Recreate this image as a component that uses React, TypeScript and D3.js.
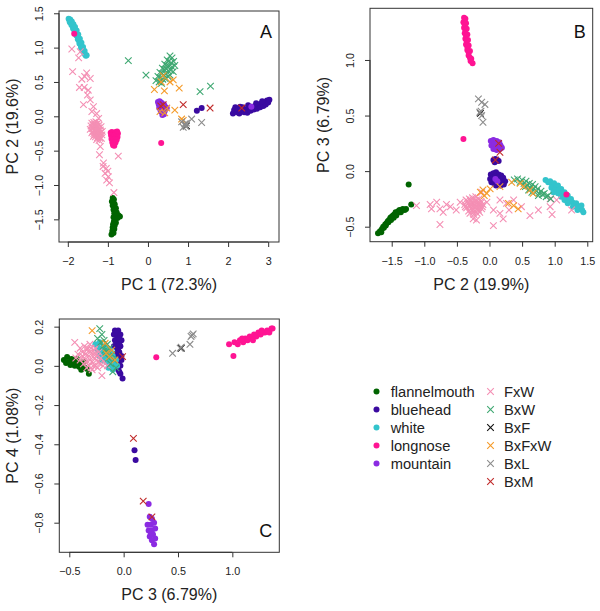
import React, { useEffect, useRef } from 'react';
import * as d3 from 'd3';

// legend names / colours
const speciesNames = ['flannelmouth', 'bluehead', 'white', 'longnose', 'mountain'];
const speciesColors = ['#006400', '#3a0aa0', '#33c4cc', '#ff1493', '#8b2be2'];
const hybridNames = ['FxW', 'BxW', 'BxF', 'BxFxW', 'BxL', 'BxM'];
const hybridColors = ['#f48fb4', '#3fa872', '#111111', '#f59b2a', '#8c8c8c', '#c02a2a'];

// ---- panel A : PC1 vs PC2 ----
const flannelmouthA = [[-0.88,-1.19],[-0.85,-1.21],[-0.9,-1.24],[-0.86,-1.26],[-0.83,-1.28],[-0.88,-1.3],[-0.84,-1.32],[-0.8,-1.34],[-0.86,-1.36],[-0.82,-1.38],[-0.78,-1.4],[-0.84,-1.41],[-0.74,-1.44],[-0.7,-1.46],[-0.8,-1.45],[-0.86,-1.47],[-0.76,-1.48],[-0.82,-1.5],[-0.85,-1.53],[-0.8,-1.55],[-0.87,-1.57],[-0.83,-1.59],[-0.88,-1.62],[-0.84,-1.64],[-0.89,-1.67],[-0.86,-1.7],[-0.91,-1.72]];
const blueheadA = [[1.22,0.08],[1.34,0.12],[2.12,0.04],[2.15,0.09],[2.18,0.13],[2.22,0.06],[2.25,0.11],[2.28,0.04],[2.32,0.08],[2.36,0.13],[2.4,0.06],[2.44,0.1],[2.48,0.05],[2.52,0.12],[2.56,0.08],[2.6,0.14],[2.64,0.1],[2.68,0.15],[2.72,0.11],[2.76,0.17],[2.8,0.13],[2.84,0.19],[2.88,0.15],[2.91,0.21],[2.94,0.17],[2.97,0.23],[3.0,0.2],[3.03,0.24],[2.7,0.19],[2.5,0.16],[2.3,0.14],[2.85,0.22]];
const whiteA = [[-1.98,1.42],[-1.96,1.4],[-1.94,1.41],[-1.95,1.37],[-1.92,1.36],[-1.9,1.38],[-1.91,1.33],[-1.88,1.32],[-1.86,1.34],[-1.87,1.28],[-1.84,1.27],[-1.82,1.3],[-1.83,1.24],[-1.8,1.22],[-1.78,1.25],[-1.79,1.18],[-1.76,1.16],[-1.74,1.19],[-1.75,1.12],[-1.72,1.1],[-1.7,1.13],[-1.71,1.06],[-1.68,1.04],[-1.66,1.07],[-1.67,1.0],[-1.64,0.98],[-1.62,1.01],[-1.63,0.95],[-1.6,0.93],[-1.58,0.95],[-1.57,0.9],[-1.55,0.88],[-1.53,0.89]];
const longnoseA = [[-1.84,1.2],[0.33,-0.39],[-0.93,-0.24],[-0.9,-0.23],[-0.87,-0.26],[-0.8,-0.23],[-0.77,-0.22],[-0.75,-0.25],[-0.92,-0.28],[-0.88,-0.3],[-0.84,-0.28],[-0.79,-0.29],[-0.76,-0.3],[-0.91,-0.33],[-0.86,-0.34],[-0.82,-0.33],[-0.78,-0.34],[-0.89,-0.38],[-0.85,-0.39],[-0.81,-0.38],[-0.87,-0.42],[-0.84,-0.43]];
const mountainA = [[0.25,0.21],[0.29,0.22],[0.33,0.2],[0.27,0.17],[0.31,0.16],[0.36,0.18],[0.4,0.17],[0.28,0.12],[0.33,0.11],[0.38,0.13],[0.43,0.14],[0.47,0.12],[0.32,0.07],[0.37,0.06],[0.42,0.08],[0.36,0.02],[0.4,0.03],[2.58,0.14]];
const fxwA = [[-1.9,0.98],[-1.69,0.94],[-1.73,0.85],[-1.88,0.65],[-1.65,0.54],[-1.53,0.63],[-1.44,0.55],[-1.58,0.58],[-1.71,0.42],[-1.59,0.42],[-1.49,0.38],[-1.51,0.31],[-1.44,0.24],[-1.61,0.17],[-1.36,0.14],[-1.28,0.04],[-1.23,-0.03],[-1.4,0.07],[-1.4,-0.1],[-1.35,-0.09],[-1.3,-0.08],[-1.25,-0.1],[-1.42,-0.14],[-1.37,-0.13],[-1.32,-0.15],[-1.27,-0.14],[-1.22,-0.13],[-1.17,-0.15],[-1.44,-0.19],[-1.39,-0.18],[-1.34,-0.2],[-1.29,-0.19],[-1.24,-0.21],[-1.19,-0.2],[-1.14,-0.22],[-1.4,-0.24],[-1.35,-0.25],[-1.3,-0.23],[-1.25,-0.26],[-1.2,-0.25],[-1.15,-0.27],[-1.36,-0.29],[-1.31,-0.3],[-1.26,-0.31],[-1.21,-0.3],[-1.16,-0.32],[-1.28,-0.34],[-1.22,-0.35],[-1.33,-0.12],[-1.28,-0.17],[-1.23,-0.17],[-1.38,-0.22],[-1.33,-0.27],[-1.18,-0.23],[-1.23,-0.28],[-1.28,-0.27],[-1.37,-0.16],[-1.2,-0.32],[-1.3,-0.12],[-1.26,-0.22],[-1.19,-0.44],[-1.21,-0.56],[-0.74,-0.58],[-1.11,-0.68],[-1.04,-0.76],[-1.07,-0.83],[-0.99,-0.88],[-1.03,-0.93],[-0.96,-0.97],[-0.85,-1.11],[-1.12,-0.73],[-1.0,-0.8]];
const bxwA = [[0.55,0.88],[0.6,0.85],[0.48,0.82],[0.52,0.8],[0.58,0.78],[0.64,0.8],[0.42,0.76],[0.47,0.74],[0.53,0.73],[0.6,0.72],[0.67,0.74],[0.36,0.7],[0.41,0.68],[0.46,0.69],[0.51,0.66],[0.57,0.67],[0.63,0.65],[0.3,0.64],[0.35,0.62],[0.4,0.6],[0.45,0.62],[0.5,0.58],[0.25,0.58],[0.31,0.56],[0.37,0.54],[0.43,0.55],[0.2,0.52],[0.28,0.5],[0.34,0.48],[0.55,0.6],[-0.49,0.81],[-0.05,0.6],[1.3,0.36],[1.56,0.44]];
const bxfA = [[0.96,-0.14]];
const bxfxwA = [[0.16,0.39],[0.41,0.37],[0.38,0.59],[0.63,0.53],[0.55,0.5],[0.78,0.41],[0.67,0.09],[0.3,0.07],[0.84,-0.04],[0.88,-0.06],[0.47,0.12],[0.42,0.05],[0.33,0.5]];
const bxlA = [[0.93,-0.13],[0.96,-0.1],[0.84,-0.08],[1.09,-0.04],[1.34,-0.09],[0.88,-0.16],[0.95,-0.15],[0.92,-0.11]];
const bxmA = [[0.38,0.17],[0.32,0.15],[0.88,0.17],[1.55,0.12],[2.34,0.12]];

// ---- panel B : PC2 vs PC3 ----
const flannelmouthB = [[-1.71,-0.56],[-1.68,-0.54],[-1.65,-0.52],[-1.66,-0.55],[-1.62,-0.51],[-1.6,-0.48],[-1.63,-0.5],[-1.58,-0.47],[-1.56,-0.45],[-1.59,-0.49],[-1.54,-0.44],[-1.52,-0.42],[-1.55,-0.46],[-1.5,-0.41],[-1.48,-0.4],[-1.51,-0.44],[-1.46,-0.39],[-1.44,-0.37],[-1.47,-0.42],[-1.42,-0.38],[-1.4,-0.36],[-1.43,-0.4],[-1.38,-0.35],[-1.36,-0.37],[-1.33,-0.34],[-1.3,-0.35],[-1.28,-0.34],[-1.24,-0.12],[-1.2,-0.3]];
const blueheadB = [[0.06,0.1],[0.09,0.11],[0.12,0.1],[0.14,0.09],[0.08,0.08],[0.02,-0.03],[0.06,-0.02],[0.1,-0.01],[0.14,-0.03],[0.18,-0.04],[0.01,-0.07],[0.05,-0.06],[0.09,-0.05],[0.13,-0.06],[0.17,-0.07],[0.21,-0.06],[0.24,-0.09],[0.03,-0.1],[0.07,-0.11],[0.11,-0.1],[0.15,-0.11],[0.19,-0.1],[0.22,-0.12],[0.1,-0.13],[0.17,-0.13]];
const whiteB = [[0.86,-0.08],[0.9,-0.1],[0.93,-0.09],[0.96,-0.12],[0.99,-0.11],[0.95,-0.15],[1.02,-0.14],[1.05,-0.13],[1.0,-0.17],[1.07,-0.17],[1.1,-0.16],[1.05,-0.2],[1.12,-0.2],[1.15,-0.19],[1.1,-0.23],[1.17,-0.23],[1.2,-0.22],[1.15,-0.26],[1.22,-0.26],[1.25,-0.25],[1.2,-0.29],[1.27,-0.28],[1.3,-0.3],[1.33,-0.29],[1.28,-0.32],[1.36,-0.32],[1.39,-0.33],[1.35,-0.35],[1.42,-0.35],[1.44,-0.37],[1.41,-0.31],[0.98,-0.19]];
const longnoseB = [[-0.39,1.38],[-0.37,1.37],[-0.4,1.34],[-0.38,1.32],[-0.36,1.33],[-0.39,1.29],[-0.37,1.27],[-0.35,1.28],[-0.38,1.24],[-0.36,1.22],[-0.34,1.23],[-0.37,1.19],[-0.35,1.17],[-0.33,1.18],[-0.36,1.14],[-0.34,1.12],[-0.32,1.13],[-0.34,1.09],[-0.32,1.07],[-0.3,1.08],[-0.32,1.04],[-0.3,1.02],[-0.28,1.01],[-0.29,0.99],[-0.26,0.97],[-0.4,0.29],[1.18,-0.21]];
const mountainB = [[0.02,0.27],[0.06,0.28],[0.11,0.27],[0.15,0.26],[0.03,0.23],[0.08,0.24],[0.13,0.22],[0.17,0.23],[0.06,0.2],[0.11,0.19],[0.16,0.2],[0.19,0.21],[0.09,-0.07],[0.12,-0.09]];
const fxwB = [[-0.36,-0.26],[-0.31,-0.25],[-0.26,-0.24],[-0.21,-0.23],[-0.16,-0.25],[-0.38,-0.3],[-0.33,-0.29],[-0.28,-0.28],[-0.23,-0.27],[-0.18,-0.28],[-0.13,-0.27],[-0.35,-0.33],[-0.3,-0.32],[-0.25,-0.31],[-0.2,-0.32],[-0.15,-0.31],[-0.1,-0.3],[-0.32,-0.36],[-0.27,-0.35],[-0.22,-0.36],[-0.17,-0.35],[-0.12,-0.34],[-0.24,-0.39],[-0.19,-0.38],[-0.34,-0.27],[-0.29,-0.3],[-0.24,-0.29],[-0.19,-0.3],[-0.14,-0.29],[-0.27,-0.33],[-0.22,-0.33],[-0.17,-0.33],[-0.29,-0.26],[-0.2,-0.26],[-0.25,-0.37],[-0.15,-0.37],[-0.37,-0.32],[-0.11,-0.32],[-0.3,-0.38],[-1.12,-0.31],[-0.91,-0.3],[-0.89,-0.34],[-0.81,-0.28],[-0.76,-0.34],[-0.71,-0.37],[-0.76,-0.48],[-0.66,-0.3],[-0.51,-0.35],[-0.45,-0.28],[-0.25,-0.43],[-0.2,-0.44],[-0.04,-0.28],[0.06,-0.35],[0.16,-0.26],[0.26,-0.29],[0.16,-0.38],[0.21,-0.43],[0.06,-0.49],[0.37,-0.26],[0.49,-0.32],[0.62,-0.4],[0.75,-0.35],[0.93,-0.32],[0.96,-0.39],[1.03,-0.26],[1.26,-0.35],[0.93,-0.25],[-0.12,-0.19],[-0.6,-0.32],[0.3,-0.35]];
const bxwB = [[0.38,-0.08],[0.43,-0.07],[0.47,-0.1],[0.5,-0.08],[0.53,-0.11],[0.56,-0.09],[0.58,-0.13],[0.61,-0.11],[0.63,-0.15],[0.66,-0.12],[0.68,-0.16],[0.7,-0.14],[0.72,-0.18],[0.74,-0.16],[0.76,-0.2],[0.79,-0.18],[0.81,-0.21],[0.84,-0.2],[0.87,-0.23],[0.9,-0.22],[0.94,-0.25],[0.6,-0.17],[0.65,-0.19],[0.55,-0.14],[0.75,-0.22]];
const bxfB = [[-0.14,0.52]];
const bxfxwB = [[-0.14,-0.19],[-0.08,-0.22],[-0.04,-0.2],[0.01,-0.16],[0.16,-0.14],[0.34,-0.1],[0.47,-0.11],[0.52,-0.14],[0.67,-0.2],[0.62,-0.17],[0.37,-0.31],[0.44,-0.34],[0.29,-0.29],[-0.1,-0.17]];
const bxlB = [[-0.17,0.65],[-0.12,0.62],[-0.07,0.6],[-0.15,0.53],[-0.12,0.5],[-0.1,0.44],[-0.13,0.54]];
const bxmB = [[0.14,0.25],[0.16,0.17],[0.09,0.1]];

// ---- panel C : PC3 vs PC4 ----
const flannelmouthC = [[-0.55,0.03],[-0.52,0.045],[-0.5,0.02],[-0.53,0.015],[-0.48,0.035],[-0.46,0.02],[-0.49,0.005],[-0.44,0.025],[-0.42,0.01],[-0.45,0.0],[-0.4,0.015],[-0.41,-0.005],[-0.38,0.0],[-0.36,-0.01],[-0.39,-0.02],[-0.34,-0.015],[-0.32,-0.04],[-0.43,0.035],[-0.37,0.02]];
const blueheadC = [[-0.08,0.18],[-0.05,0.18],[-0.09,0.16],[-0.06,0.15],[-0.03,0.16],[-0.08,0.13],[-0.05,0.12],[-0.02,0.13],[-0.09,0.1],[-0.06,0.09],[-0.03,0.1],[-0.07,0.06],[-0.04,0.07],[-0.02,0.05],[-0.08,0.03],[-0.05,0.02],[-0.03,0.0],[-0.06,-0.01],[-0.04,-0.03],[-0.07,0.17],[-0.04,0.14],[-0.07,0.11],[-0.04,0.11],[-0.05,0.08],[-0.06,0.04],[-0.03,0.04],[-0.05,-0.02],[-0.03,-0.04],[-0.01,-0.064],[0.1,-0.43],[0.11,-0.48],[-0.02,0.03]];
const whiteC = [[-0.26,0.11],[-0.22,0.12],[-0.18,0.1],[-0.24,0.08],[-0.2,0.09],[-0.16,0.07],[-0.12,0.08],[-0.22,0.05],[-0.18,0.06],[-0.14,0.04],[-0.1,0.05],[-0.16,0.02],[-0.12,0.01],[-0.08,0.02],[-0.14,-0.01],[-0.1,-0.02],[-0.06,0.0],[-0.2,0.03],[-0.24,0.1],[-0.21,0.07],[-0.17,0.08],[-0.13,0.06],[-0.19,0.04],[-0.15,0.05],[-0.11,0.03],[-0.13,0.03],[-0.09,0.0],[-0.07,0.03]];
const longnoseC = [[0.3,0.044],[1.01,0.05],[0.97,0.11],[1.02,0.12],[1.05,0.11],[1.07,0.13],[1.1,0.12],[1.12,0.14],[1.14,0.13],[1.16,0.15],[1.18,0.14],[1.2,0.16],[1.22,0.15],[1.24,0.17],[1.26,0.16],[1.28,0.17],[1.3,0.17],[1.32,0.18],[1.34,0.17],[1.36,0.19],[1.37,0.19],[1.09,0.14],[1.19,0.13],[1.27,0.18]];
const mountainC = [[0.23,-0.705],[0.24,-0.77],[0.26,-0.78],[0.22,-0.81],[0.25,-0.81],[0.28,-0.8],[0.23,-0.84],[0.26,-0.84],[0.29,-0.83],[0.24,-0.87],[0.27,-0.86],[0.29,-0.88],[0.26,-0.89],[0.28,-0.91],[0.25,-0.85]];
const fxwC = [[-0.45,0.12],[-0.4,0.09],[-0.36,0.1],[-0.42,0.06],[-0.38,0.07],[-0.34,0.08],[-0.3,0.09],[-0.4,0.03],[-0.36,0.04],[-0.32,0.05],[-0.28,0.06],[-0.24,0.05],[-0.37,0.01],[-0.33,0.02],[-0.29,0.02],[-0.25,0.03],[-0.21,0.04],[-0.34,-0.01],[-0.3,-0.01],[-0.26,0.0],[-0.22,0.01],[-0.18,0.02],[-0.2,-0.05],[-0.31,0.11],[-0.26,0.09],[-0.15,0.0],[-0.44,0.04],[-0.38,0.05],[-0.35,0.06],[-0.31,0.07],[-0.27,0.08],[-0.23,0.07],[-0.35,0.02],[-0.31,0.03],[-0.27,0.04],[-0.23,0.02],[-0.32,0.0],[-0.28,0.0],[-0.24,-0.01],[-0.19,0.0],[-0.29,-0.02],[-0.26,0.06],[-0.33,0.09]];
const bxwC = [[-0.22,0.19],[-0.2,0.16],[-0.24,0.14],[-0.18,0.13],[-0.15,0.11],[-0.19,0.1],[-0.13,0.09],[-0.16,0.07],[-0.11,0.06],[-0.14,0.04],[-0.09,0.03],[-0.12,0.01],[-0.07,-0.01],[-0.1,-0.03],[-0.17,0.08],[-0.21,0.12]];
const bxfC = [[0.53,0.09]];
const bxfxwC = [[-0.29,0.18],[-0.17,0.115],[-0.13,0.047],[-0.08,0.03],[-0.16,0.064],[-0.11,0.08]];
const bxlC = [[0.45,0.064],[0.52,0.09],[0.53,0.095],[0.61,0.11],[0.63,0.157],[0.64,0.163],[0.62,0.15]];
const bxmC = [[-0.01,0.047],[0.09,-0.37],[0.18,-0.69],[0.26,-0.77]];

// ticks and labels
const ticksA_x = [-2, -1, 0, 1, 2, 3];
const ticksA_y = [-1.5, -1.0, -0.5, 0.0, 0.5, 1.0, 1.5];
const ticksB_x = [-1.5, -1.0, -0.5, 0.0, 0.5, 1.0, 1.5];
const ticksB_y = [-0.5, 0.0, 0.5, 1.0];
const ticksC_x = [-0.5, 0.0, 0.5, 1.0];
const ticksC_y = [-0.8, -0.6, -0.4, -0.2, 0.0, 0.2];

const panelA = [flannelmouthA, blueheadA, whiteA, longnoseA, mountainA, fxwA, bxwA, bxfA, bxfxwA, bxlA, bxmA];
const panelB = [flannelmouthB, blueheadB, whiteB, longnoseB, mountainB, fxwB, bxwB, bxfB, bxfxwB, bxlB, bxmB];
const panelC = [flannelmouthC, blueheadC, whiteC, longnoseC, mountainC, fxwC, bxwC, bxfC, bxfxwC, bxlC, bxmC];

const FONT = '"Liberation Sans", Arial, Helvetica, sans-serif';
const R = 3.0;   // dot radius
const S = 3.3;   // half size of the x

function cross(px, py) {
    return `M${px - S},${py - S}L${px + S},${py + S}M${px - S},${py + S}L${px + S},${py - S}`;
}

function drawPanel(svg, opt) {
    const { x0, x1, y0, y1, xDom, yDom, xTicks, yTicks, xDec, yDec, xTitle, yTitle, letter, letterY, data } = opt;
    const x = d3.scaleLinear().domain(xDom).range([x0, x1]);
    const y = d3.scaleLinear().domain(yDom).range([y1, y0]);
    const g = svg.append('g');

    const cols = speciesColors.concat(hybridColors);
    data.forEach((pts, i) => {
        const col = cols[i];
        if (i < 5) {
            g.selectAll(null).data(pts).enter().append('circle')
                .attr('cx', d => x(d[0])).attr('cy', d => y(d[1]))
                .attr('r', R).attr('fill', col);
        } else {
            g.selectAll(null).data(pts).enter().append('path')
                .attr('d', d => cross(x(d[0]), y(d[1])))
                .attr('stroke', col).attr('stroke-width', 1.1).attr('fill', 'none');
        }
    });

    // box
    g.append('rect').attr('x', x0).attr('y', y0).attr('width', x1 - x0).attr('height', y1 - y0)
        .attr('fill', 'none').attr('stroke', '#333').attr('stroke-width', 1);

    const xAxis = d3.axisBottom(x).tickValues(xTicks).tickSize(5).tickPadding(6)
        .tickFormat(d => d3.format('.' + xDec + 'f')(d).replace('-', '\u2212'));
    const ax = g.append('g').attr('transform', `translate(0,${y1})`).call(xAxis);
    ax.select('.domain').attr('d', `M${x(xTicks[0])},0H${x(xTicks[xTicks.length - 1])}`).attr('stroke', '#333');
    ax.selectAll('.tick line').attr('stroke', '#333');
    ax.selectAll('text').attr('font-family', FONT).attr('font-size', 10.8).attr('fill', '#222').attr('dy', 0).attr('y', 23);

    const yAxis = d3.axisLeft(y).tickValues(yTicks).tickSize(5)
        .tickFormat(d => d3.format('.' + yDec + 'f')(d).replace('-', '\u2212'));
    const ay = g.append('g').attr('transform', `translate(${x0},0)`).call(yAxis);
    ay.select('.domain').attr('d', `M0,${y(yTicks[0])}V${y(yTicks[yTicks.length - 1])}`).attr('stroke', '#333');
    ay.selectAll('.tick line').attr('stroke', '#333');
    ay.selectAll('text').attr('font-family', FONT).attr('font-size', 10.8).attr('fill', '#222')
        .attr('x', 0).attr('dy', 0).attr('text-anchor', 'middle')
        .attr('transform', 'translate(-16,0) rotate(-90)');

    g.append('text').attr('x', (x0 + x1) / 2).attr('y', y1 + 48).attr('text-anchor', 'middle')
        .attr('font-family', FONT).attr('font-size', 16).attr('fill', '#222').text(xTitle);
    g.append('text').attr('transform', `translate(${x0 - 41.5},${(y0 + y1) / 2}) rotate(-90)`)
        .attr('text-anchor', 'middle').attr('font-family', FONT).attr('font-size', 16).attr('fill', '#222').text(yTitle);
    g.append('text').attr('x', x1 - 7).attr('y', letterY).attr('text-anchor', 'end')
        .attr('font-family', FONT).attr('font-size', 18).attr('fill', '#111').text(letter);
}

function App() {
    const ref = useRef(null);

    useEffect(() => {
        const svg = d3.select(ref.current);
        svg.selectAll('*').remove();

        drawPanel(svg, {
            x0: 59, x1: 279, y0: 11, y1: 242, xDom: [-2.22, 3.27], yDom: [-1.83, 1.533],
            xTicks: ticksA_x, yTicks: ticksA_y, xDec: 0, yDec: 1,
            xTitle: 'PC 1 (72.3%)', yTitle: 'PC 2 (19.6%)', letter: 'A', letterY: 38, data: panelA
        });
        drawPanel(svg, {
            x0: 370, x1: 592.7, y0: 8.3, y1: 241.7, xDom: [-1.833, 1.583], yDom: [-0.635, 1.465],
            xTicks: ticksB_x, yTicks: ticksB_y, xDec: 1, yDec: 1,
            xTitle: 'PC 2 (19.9%)', yTitle: 'PC 3 (6.79%)', letter: 'B', letterY: 38, data: panelB
        });
        drawPanel(svg, {
            x0: 59.3, x1: 279.3, y0: 319, y1: 552.3, xDom: [-0.592, 1.432], yDom: [-0.951, 0.239],
            xTicks: ticksC_x, yTicks: ticksC_y, xDec: 1, yDec: 1,
            xTitle: 'PC 3 (6.79%)', yTitle: 'PC 4 (1.08%)', letter: 'C', letterY: 537, data: panelC
        });

        // legend
        const leg = svg.append('g');
        speciesNames.forEach((n, i) => {
            const yy = 391.5 + i * 18;
            leg.append('circle').attr('cx', 376.5).attr('cy', yy).attr('r', R).attr('fill', speciesColors[i]);
            leg.append('text').attr('x', 390.7).attr('y', yy + 5).attr('font-family', FONT)
                .attr('font-size', 14.7).attr('fill', '#222').text(n);
        });
        hybridNames.forEach((n, i) => {
            const yy = 391.5 + i * 18;
            leg.append('path').attr('d', cross(490.5, yy))
                .attr('stroke', hybridColors[i]).attr('stroke-width', 1.1).attr('fill', 'none');
            leg.append('text').attr('x', 504).attr('y', yy + 5).attr('font-family', FONT)
                .attr('font-size', 14.7).attr('fill', '#222').text(n);
        });
    }, []);

    return (
        <div style={{ position: 'absolute', left: 0, top: 0 }}>
            <svg ref={ref} width={600} height={611} style={{ display: 'block', background: '#fff' }}></svg>
        </div>
    );
}

export default App;
